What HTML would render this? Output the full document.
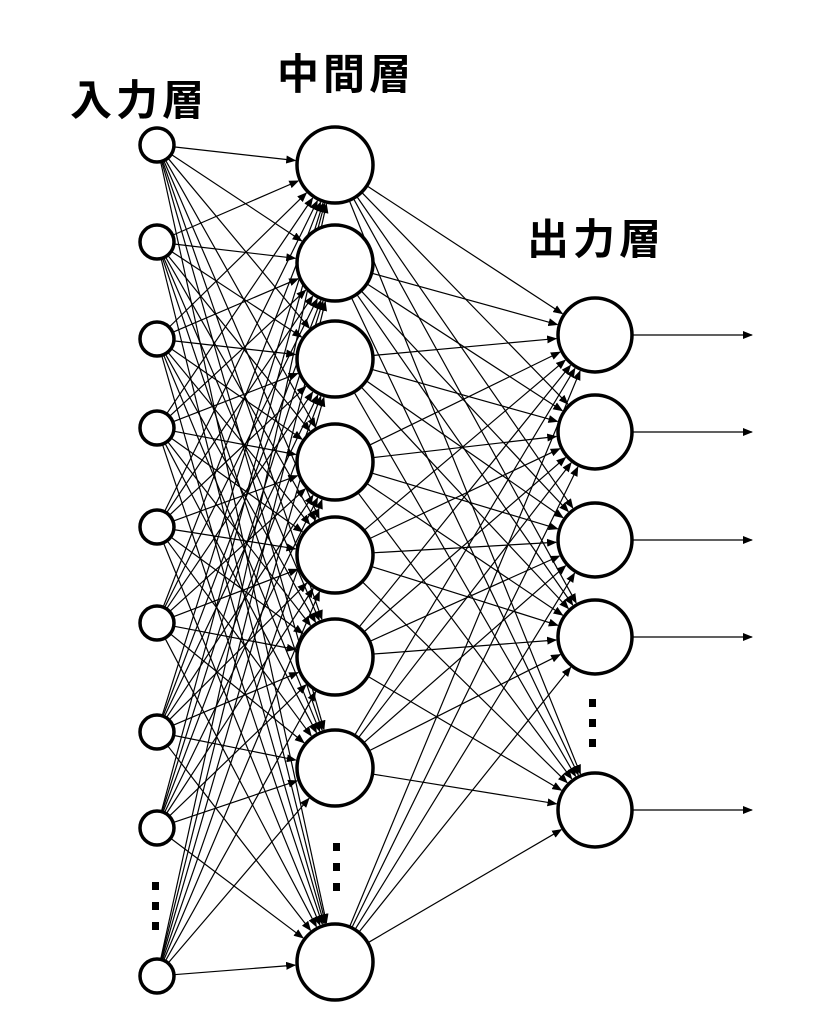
<!DOCTYPE html>
<html><head><meta charset="utf-8"><style>
html,body{margin:0;padding:0;background:#fff;}
svg{display:block}
text{font-family:"Liberation Sans","Noto Sans CJK JP",sans-serif;font-weight:bold;font-size:42px;letter-spacing:4px;fill:#000}
</style></head><body>
<svg id="s" width="824" height="1034" viewBox="0 0 824 1034" xmlns="http://www.w3.org/2000/svg">
<defs><marker id="a" markerWidth="10" markerHeight="8" refX="9" refY="4" orient="auto" markerUnits="userSpaceOnUse"><path d="M0,0 L10,4 L0,8 z" fill="#000"/></marker></defs>
<text x="70" y="115">入力層</text>
<text x="277" y="89">中間層</text>
<text x="527" y="254">出力層</text>
<g id="lines" stroke="#000" stroke-width="1.2" fill="none"></g>
<g id="nodes" stroke="#000" stroke-width="3.5" fill="#fff"></g>
<g fill="#000">
<rect x="152" y="882" width="7" height="8"/><rect x="152" y="902" width="7" height="8"/><rect x="152" y="922" width="7" height="8"/>
<rect x="333" y="843" width="7" height="8"/><rect x="333" y="863" width="7" height="8"/><rect x="333" y="883" width="7" height="8"/>
<rect x="589" y="699" width="7" height="8"/><rect x="589" y="719" width="7" height="8"/><rect x="589" y="739" width="7" height="8"/>
</g>
</svg>
<script>
var NS="http://www.w3.org/2000/svg";
var inp=[145,242,339,428,527,623,732,828,976].map(function(y){return{x:157,y:y,r:17}});
var hid=[165,263,359,462,555,657,768,962].map(function(y){return{x:335,y:y,r:38}});
var out=[335,432,540,637,810].map(function(y){return{x:595,y:y,r:37}});
var L=document.getElementById('lines'),N=document.getElementById('nodes');
function line(a,b){var dx=b.x-a.x,dy=b.y-a.y,d=Math.sqrt(dx*dx+dy*dy),ux=dx/d,uy=dy/d;
var l=document.createElementNS(NS,'line');
l.setAttribute('x1',a.x+ux*a.r);l.setAttribute('y1',a.y+uy*a.r);
l.setAttribute('x2',b.x-ux*(b.r+2));l.setAttribute('y2',b.y-uy*(b.r+2));
l.setAttribute('marker-end','url(#a)');L.appendChild(l);}
inp.forEach(function(a){hid.forEach(function(b){line(a,b)})});
hid.forEach(function(a){out.forEach(function(b){line(a,b)})});
out.forEach(function(o){line(o,{x:752,y:o.y,r:-2})});
function circ(n){var c=document.createElementNS(NS,'circle');c.setAttribute('cx',n.x);c.setAttribute('cy',n.y);c.setAttribute('r',n.r);N.appendChild(c);}
inp.forEach(circ);hid.forEach(circ);out.forEach(circ);
</script>
</body></html>
